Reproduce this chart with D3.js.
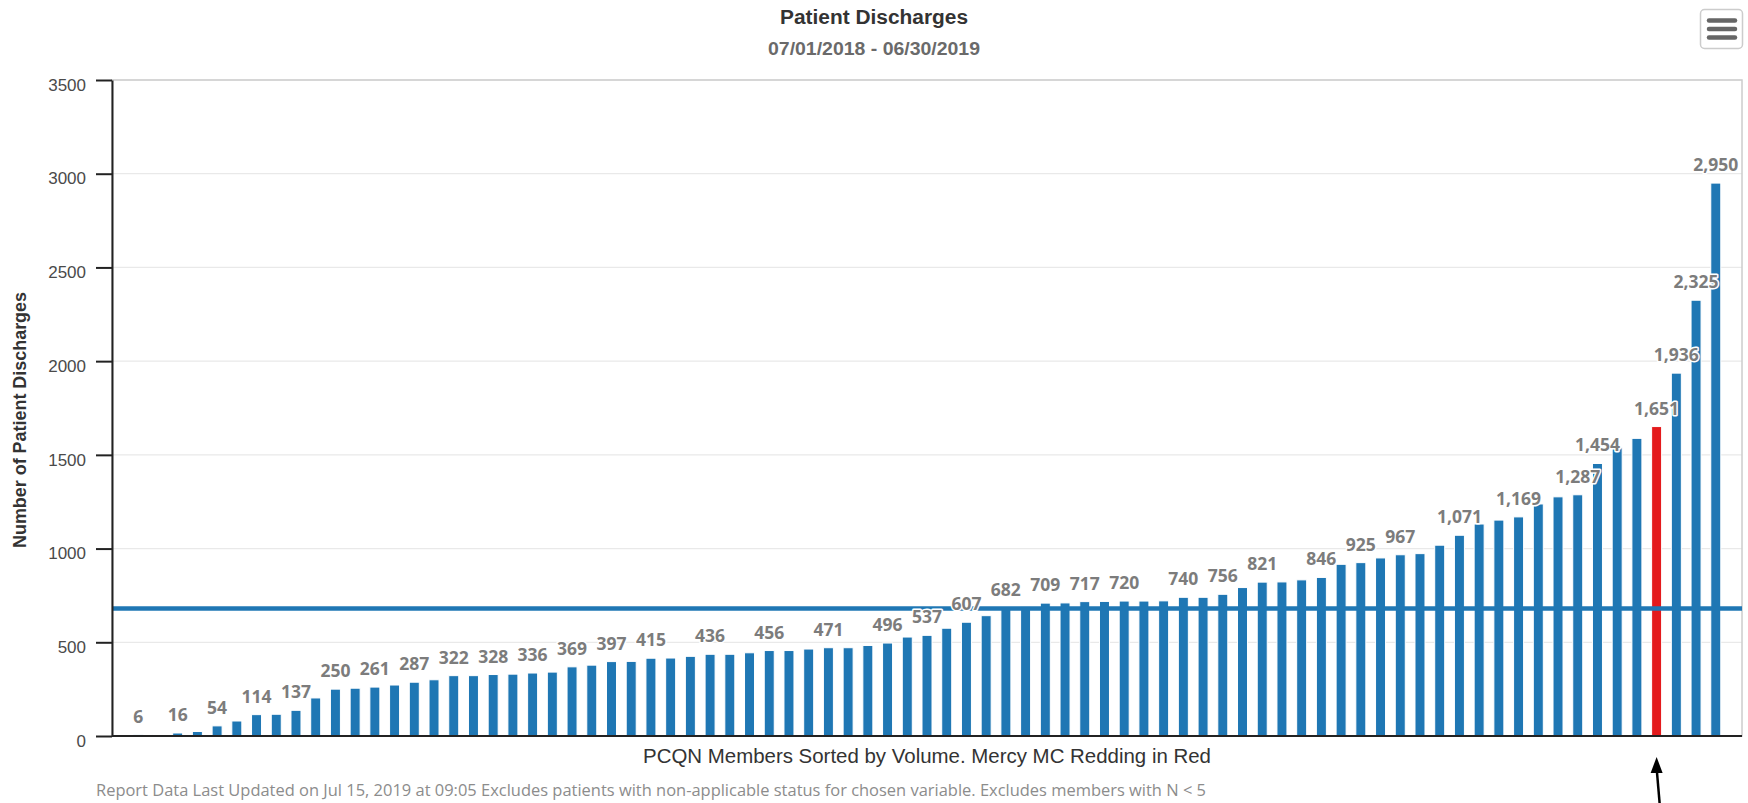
<!DOCTYPE html>
<html>
<head>
<meta charset="utf-8">
<script src="https://cdn.jsdelivr.net/npm/d3@7"></script>
<style>
  html, body { margin: 0; padding: 0; background: #fff; }
  svg { display: block; }
</style>
</head>
<body>
<svg id="chart" width="1748" height="803"></svg>
<script>
// ---- data (sorted by volume) ----
const dischargeValues = [
  6, 8, 16, 24, 54, 80, 114, 116, 137, 203,
  250, 255, 261, 272, 287, 300, 322, 322, 328, 330,
  336, 341, 369, 378, 397, 398, 415, 416, 425, 436,
  436, 444, 456, 456, 464, 471, 471, 483, 496, 528,
  537, 575, 607, 642, 682, 690, 709, 710, 717, 718,
  720, 720, 721, 740, 740, 756, 792, 821, 822, 833,
  846, 916, 925, 950, 967, 973, 1018, 1071, 1131, 1152,
  1169, 1238, 1276, 1287, 1454, 1538, 1588, 1651, 1936, 2325,
  2950
];
// index of Mercy MC Redding (drawn in red)
const highlightIndex = 77;
// bars whose data label is printed (others hidden by overlap)
const labelledIndices = [0,2,4,6,8,10,12,14,16,18,20,22,24,26,29,32,35,38,40,42,44,46,48,50,53,55,57,60,62,64,67,70,73,74,77,78,79,80];
// reference line value
const referenceLineValue = 680;
const yTickValues = [0, 500, 1000, 1500, 2000, 2500, 3000, 3500];

const titleText = "Patient Discharges";
const subtitleText = "07/01/2018 - 06/30/2019";
const yTitleText = "Number of Patient Discharges";
const xTitleText = "PCQN Members Sorted by Volume. Mercy MC Redding in Red";
const footerText = "Report Data Last Updated on Jul 15, 2019 at 09:05 Excludes patients with non-applicable status for chosen variable. Excludes members with N < 5";

// ---- layout ----
const W = 1748, H = 803;
const plot = { left: 112, right: 1742, top: 80, bottom: 736 };
const BLUE = "#1f77b4", RED = "#e41a1c";

const svg = d3.select("#chart");

const x = d3.scalePoint()
  .domain(d3.range(dischargeValues.length))
  .range([plot.left, plot.right])
  .padding(1.33);
const y = d3.scaleLinear().domain([0, 3500]).range([plot.bottom, plot.top]);

// gridlines
svg.append("g")
  .selectAll("line")
  .data(yTickValues.filter(d => d > 0))
  .join("line")
  .attr("x1", plot.left).attr("x2", plot.right)
  .attr("y1", d => y(d)).attr("y2", d => y(d))
  .attr("stroke", "#e9e9e9").attr("stroke-width", 1.2);

// plot border
svg.append("rect")
  .attr("x", plot.left).attr("y", plot.top)
  .attr("width", plot.right - plot.left).attr("height", plot.bottom - plot.top)
  .attr("fill", "none").attr("stroke", "#cccccc").attr("stroke-width", 1.5);

// bars
const barW = 10;
svg.append("g")
  .selectAll("rect")
  .data(dischargeValues)
  .join("rect")
  .attr("x", (d, i) => x(i) - barW / 2)
  .attr("y", d => y(d))
  .attr("width", barW)
  .attr("height", d => y(0) - y(d))
  .attr("fill", (d, i) => i === highlightIndex ? RED : BLUE)
  .attr("stroke", "#ffffff")
  .attr("stroke-width", 1);

// reference line
svg.append("line")
  .attr("x1", plot.left).attr("x2", plot.right)
  .attr("y1", y(referenceLineValue)).attr("y2", y(referenceLineValue))
  .attr("stroke", BLUE).attr("stroke-width", 4.5);

// y axis
const yAxis = d3.axisLeft(y)
  .tickValues(yTickValues)
  .tickSize(16)
  .tickSizeOuter(0)
  .tickPadding(10)
  .tickFormat(d3.format("d"));
const gy = svg.append("g")
  .attr("transform", `translate(${plot.left},0)`)
  .call(yAxis);
gy.select(".domain").attr("stroke", "#222").attr("stroke-width", 2);
gy.selectAll(".tick line").attr("stroke", "#222").attr("stroke-width", 2);
gy.selectAll(".tick text")
  .attr("dy", "0.6em")
  .attr("fill", "#4a4a4a")
  .style("font-family", "'Liberation Sans', Arial, sans-serif")
  .style("font-size", "17px");

// x axis baseline
svg.append("line")
  .attr("x1", plot.left).attr("x2", plot.right)
  .attr("y1", y(0)).attr("y2", y(0))
  .attr("stroke", "#222").attr("stroke-width", 2);

// data labels
const fmt = d3.format(",");
svg.append("g")
  .selectAll("text")
  .data(labelledIndices)
  .join("text")
  .attr("x", i => x(i))
  .attr("y", i => y(dischargeValues[i]) - 12)
  .attr("text-anchor", "middle")
  .style("font-family", "'Open Sans', 'DejaVu Sans', sans-serif")
  .style("font-weight", "700")
  .style("font-size", "17.5px")
  .attr("fill", "#7c7c7c")
  .attr("stroke", "#ffffff")
  .attr("stroke-width", 3)
  .attr("stroke-linejoin", "round")
  .attr("paint-order", "stroke")
  .text(i => fmt(dischargeValues[i]));

// titles
svg.append("text")
  .attr("x", W / 2).attr("y", 24)
  .attr("text-anchor", "middle")
  .attr("textLength", 188).attr("lengthAdjust", "spacingAndGlyphs")
  .style("font-family", "'Liberation Sans', Arial, sans-serif")
  .style("font-size", "19.5px")
  .style("font-weight", "700")
  .attr("fill", "#333")
  .text(titleText);

svg.append("text")
  .attr("x", W / 2).attr("y", 55)
  .attr("text-anchor", "middle")
  .attr("textLength", 212).attr("lengthAdjust", "spacingAndGlyphs")
  .style("font-family", "'Liberation Sans', Arial, sans-serif")
  .style("font-size", "18.5px")
  .style("font-weight", "700")
  .attr("fill", "#6a6a6a")
  .text(subtitleText);

svg.append("text")
  .attr("transform", `translate(26,${(plot.top + plot.bottom) / 2 + 12}) rotate(-90)`)
  .attr("text-anchor", "middle")
  .attr("textLength", 256).attr("lengthAdjust", "spacingAndGlyphs")
  .style("font-family", "'Liberation Sans', Arial, sans-serif")
  .style("font-size", "18px")
  .style("font-weight", "700")
  .attr("fill", "#333")
  .text(yTitleText);

svg.append("text")
  .attr("x", (plot.left + plot.right) / 2).attr("y", 763)
  .attr("text-anchor", "middle")
  .attr("textLength", 568).attr("lengthAdjust", "spacingAndGlyphs")
  .style("font-family", "'Liberation Sans', Arial, sans-serif")
  .style("font-size", "19.5px")
  .attr("fill", "#333")
  .text(xTitleText);

svg.append("text")
  .attr("x", 96).attr("y", 796)
  .attr("textLength", 1110).attr("lengthAdjust", "spacingAndGlyphs")
  .style("font-family", "'Open Sans', sans-serif")
  .style("font-size", "15.5px")
  .attr("fill", "#8c8c8c")
  .text(footerText);

// export menu button
const menu = svg.append("g");
menu.append("rect")
  .attr("x", 1700.5).attr("y", 9.5).attr("width", 42).attr("height", 39).attr("rx", 4)
  .attr("fill", "#fff").attr("stroke", "#cccccc").attr("stroke-width", 1.5);
menu.selectAll("line.m")
  .data([20.5, 29, 37.5])
  .join("line")
  .attr("x1", 1709).attr("x2", 1735)
  .attr("y1", d => d).attr("y2", d => d)
  .attr("stroke", "#666").attr("stroke-width", 4.5).attr("stroke-linecap", "round");

// annotation arrow pointing at highlighted member
const ax = x(highlightIndex);
svg.append("line")
  .attr("x1", ax + 3).attr("y1", 803)
  .attr("x2", ax).attr("y2", 768)
  .attr("stroke", "#000").attr("stroke-width", 2.5);
svg.append("path")
  .attr("d", `M${ax},757 L${ax - 6},773 L${ax + 6},773 Z`)
  .attr("fill", "#000");
</script>
</body>
</html>
